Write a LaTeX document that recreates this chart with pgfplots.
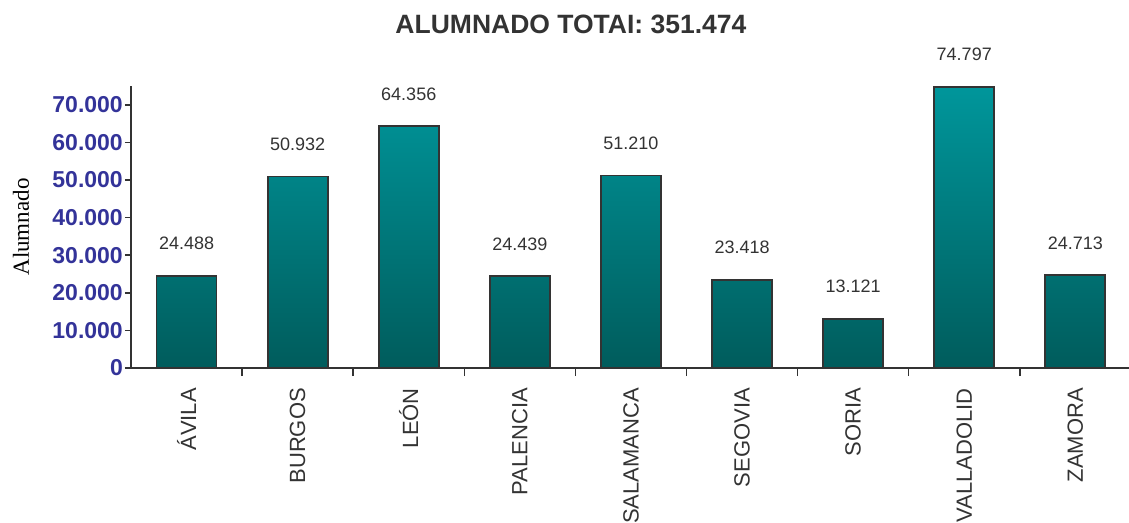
\documentclass[border=0pt]{standalone}
\usepackage{pgfplots}
\pgfplotsset{compat=1.18}
\usepackage{fontspec}
\setmainfont{Liberation Sans}
\newfontfamily\seriffont{Liberation Serif}

\definecolor{tickblue}{RGB}{51,51,153}
\definecolor{txt}{RGB}{51,51,51}
\definecolor{bartop}{RGB}{0,150,155}
\definecolor{barmid}{RGB}{0,130,134}
\definecolor{barbot}{RGB}{0,92,92}

\begin{document}
\begin{tikzpicture}
\begin{axis}[
    at={(0pt,0pt)}, anchor=south west,
    scale only axis,
    width=1000pt, height=282pt,
    ybar, bar width=0.54,
    xmin=-0.5, xmax=8.5,
    ymin=0, ymax=75000,
    axis x line*=bottom, axis y line*=left,
    axis line style={-, draw=txt, line width=1.5pt},
    tick align=outside,
    xtick={0,...,8},
    xticklabels={ÁVILA,BURGOS,LEÓN,PALENCIA,SALAMANCA,SEGOVIA,SORIA,VALLADOLID,ZAMORA},
    major x tick style={draw=none},
    minor xtick={0.5,1.5,...,7.5},
    minor x tick style={draw=txt, line width=1.5pt},
    minor tick length=8pt,
    ytick={0,10000,...,70000},
    ytick style={draw=txt, line width=1.5pt},
    major tick length=6pt,
    scaled y ticks=false,
    /pgf/number format/fixed,
    /pgf/number format/precision=0,
    /pgf/number format/1000 sep={.},
    /pgf/number format/assume math mode=true,
    xticklabel style={rotate=90, anchor=east, inner sep=0pt,
        font=\fontsize{22}{24}\selectfont, text=txt},
    xticklabel shift=14pt,
    yticklabel style={inner sep=0pt, anchor=east,
        font=\fontsize{23}{25}\selectfont\bfseries, text=tickblue},
    yticklabel shift=2pt,
    ylabel={Alumnado},
    ylabel style={at={(axis description cs:-0.110,0.5)}, anchor=center,
        font=\seriffont\fontsize{23}{25}\selectfont, text=black},
    title={ALUMNADO TOTAI: 351.474},
    title style={at={(axis description cs:0.44,1)}, anchor=base,
        yshift=46.5pt, inner sep=0pt,
        font=\fontsize{26.5}{28}\selectfont\bfseries, text=txt},
    nodes near coords,
    every node near coord/.append style={anchor=base, inner sep=0pt,
        yshift=26pt, font=\fontsize{18}{20}\selectfont, text=txt},
]
\addplot[draw=txt, line width=1.8pt, top color=bartop, middle color=barmid, bottom color=barbot]
coordinates {(0,24488) (1,50932) (2,64356) (3,24439) (4,51210)
             (5,23418) (6,13121) (7,74797) (8,24713)};
\end{axis}
\pgfresetboundingbox
\useasboundingbox (-131pt,-154pt) rectangle (998pt,368pt);
\end{tikzpicture}
\end{document}
